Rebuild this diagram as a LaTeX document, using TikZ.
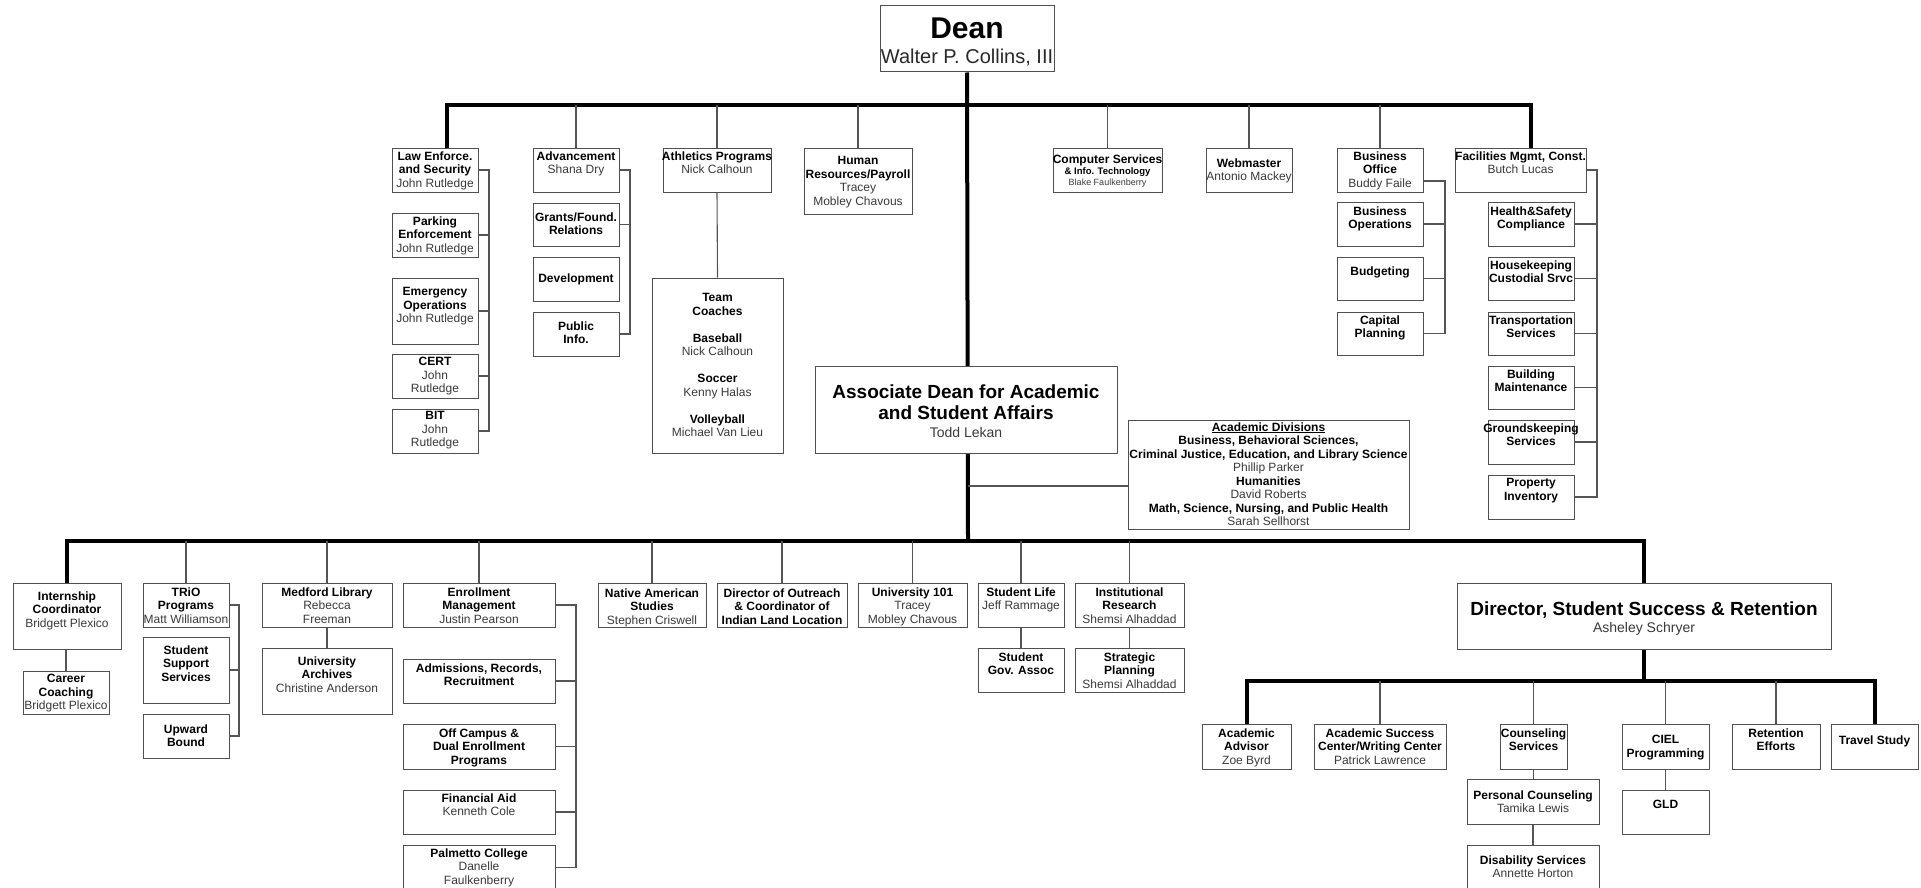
\documentclass[tikz,border=0pt]{standalone}
\usepackage{fontspec}
\setmainfont{Liberation Sans}
\usetikzlibrary{fit}
\pgfdeclarelayer{back}
\pgfsetlayers{back,main}
\definecolor{bxc}{HTML}{505050}
\definecolor{lnc}{HTML}{555555}
\definecolor{nmc}{HTML}{3A3A3A}
\newcommand\who[1]{{\mdseries\color{nmc}#1}}
\tikzset{
  bx/.style={draw=bxc, line width=1pt, fill=white, inner sep=0pt},
  txt/.style={align=center, inner sep=0pt, font=\fontsize{12}{13.5}\selectfont\bfseries},
  thn/.style={draw=lnc, line width=1.1pt},
  thk/.style={draw=black, line width=4pt},
}
% name, x1, y1, x2, y2, first-line centre offset, text
\newcommand\obox[7]{%
  \node[bx, fit={(#2,#3)(#4,#5)}] (#1) {};
  \node[txt, anchor=north] (#1-t) at ([yshift={4.3pt-#6pt}]#1.north) {#7};
}
\begin{document}
\begin{tikzpicture}[x=1pt,y=-1pt]
\useasboundingbox (0,0) rectangle (1921,888);

% ---------- top ----------
\node[bx, fit={(880,6)(1054,72)}] (dean) {};
\node[anchor=base, inner sep=0pt, font=\fontsize{30}{34}\selectfont\bfseries] (dean-t) at (967,39) {Dean};
\node[anchor=base, inner sep=0pt, font=\fontsize{20}{24}\selectfont, text=nmc!70!black] (dean-n) at (967,64) {Walter P. Collins, III};

\obox{law}{392}{148}{478}{192}{8}{Law Enforce.\\and Security\\\who{John Rutledge}}
\obox{park}{392}{213}{478}{257}{8}{Parking\\Enforcement\\\who{John Rutledge}}
\obox{emer}{392}{278}{478}{344}{14}{Emergency\\Operations\\\who{John Rutledge}}
\obox{cert}{392}{354}{478}{398}{8}{CERT\\\who{John}\\\who{Rutledge}}
\obox{bit}{392}{409}{478}{453}{7}{BIT\\\who{John}\\\who{Rutledge}}

\obox{adv}{533}{148}{619}{192}{8}{Advancement\\\who{Shana Dry}}
\obox{grants}{533}{203}{619}{246}{14}{Grants/Found.\\Relations}
\obox{devel}{533}{257}{619}{301}{21}{Development}
\obox{pubinfo}{533}{312}{619}{356}{14}{Public\\Info.}

\obox{ath}{663}{148}{771}{192}{8}{Athletics Programs\\\who{Nick Calhoun}}
\obox{coach}{652}{278}{783}{453}{20}{Team\\Coaches\\[13.5pt]Baseball\\\who{Nick Calhoun}\\[13.5pt]Soccer\\\who{Kenny Halas}\\[13.5pt]Volleyball\\\who{Michael Van Lieu}}
\obox{hr}{804}{148}{912}{214}{13}{Human\\Resources/Payroll\\\who{Tracey}\\\who{Mobley Chavous}}

\obox{cs}{1053}{148}{1162}{192}{11}{Computer Services\\[-2pt]{\fontsize{9.5}{11}\selectfont \& Info. Technology}\\[-3pt]{\fontsize{9}{10}\selectfont\who{Blake Faulkenberry}}}
\obox{web}{1206}{148}{1292}{192}{15}{Webmaster\\\who{Antonio Mackey}}

\obox{bo}{1337}{148}{1423}{192}{8}{Business\\Office\\\who{Buddy Faile}}
\obox{bops}{1337}{202}{1423}{246}{9}{Business\\Operations}
\obox{budg}{1337}{257}{1423}{300}{14}{Budgeting}
\obox{cap}{1337}{312}{1423}{355}{8}{Capital\\Planning}

\obox{fac}{1455}{148}{1586}{192}{8}{Facilities Mgmt, Const.\\\who{Butch Lucas}}
\obox{hs}{1488}{202}{1574}{246}{9}{Health\&Safety\\Compliance}
\obox{hk}{1488}{257}{1574}{300}{8}{Housekeeping\\Custodial Srvc}
\obox{tr}{1488}{312}{1574}{355}{8}{Transportation\\Services}
\obox{bm}{1488}{366}{1574}{409}{8}{Building\\Maintenance}
\obox{gk}{1488}{420}{1574}{464}{8}{Groundskeeping\\Services}
\obox{pi}{1488}{475}{1574}{519}{8}{Property\\Inventory}

% associate dean
\node[bx, fit={(815,366)(1117,453)}] (assoc) {};
\node[anchor=base, inner sep=0pt, font=\fontsize{19}{21}\selectfont\bfseries] (assoc-t) at (966,398.5) {Associate Dean for Academic};
\node[anchor=base, inner sep=0pt, font=\fontsize{19}{21}\selectfont\bfseries] (assoc-t2) at (966,419.5) {and Student Affairs};
\node[anchor=base, inner sep=0pt, font=\fontsize{14}{16}\selectfont, text=nmc] (assoc-n) at (966,437) {Todd Lekan};

\obox{ad}{1128}{420}{1409}{529}{7}{\underline{Academic Divisions}\\Business, Behavioral Sciences,\\Criminal Justice, Education, and Library Science\\\who{Phillip Parker}\\Humanities\\\who{David Roberts}\\Math, Science, Nursing, and Public Health\\\who{Sarah Sellhorst}}

% ---------- bottom ----------
\obox{intern}{13}{583}{121}{649}{13}{Internship\\Coordinator\\\who{Bridgett Plexico}}
\obox{career}{23}{671}{109}{714}{8}{Career\\Coaching\\\who{Bridgett Plexico}}
\obox{trio}{143}{583}{229}{627}{9}{TRiO\\Programs\\\who{Matt Williamson}}
\obox{sss}{143}{637}{229}{703}{13}{Student\\Support\\Services}
\obox{upb}{143}{714}{229}{758}{15}{Upward\\Bound}
\obox{med}{262}{583}{392}{627}{9}{Medford Library\\\who{Rebecca}\\\who{Freeman}}
\obox{arch}{262}{648}{392}{714}{13}{University\\Archives\\\who{Christine Anderson}}
\obox{em}{403}{583}{555}{627}{9}{Enrollment\\Management\\\who{Justin Pearson}}
\obox{adm}{403}{659}{555}{703}{9}{Admissions, Records,\\Recruitment}
\obox{offc}{403}{724}{555}{769}{9}{Off Campus \&\\Dual Enrollment\\Programs}
\obox{fa}{403}{790}{555}{834}{8}{Financial Aid\\\who{Kenneth Cole}}
\obox{palm}{403}{845}{555}{890}{8}{Palmetto College\\\who{Danelle}\\\who{Faulkenberry}}
\obox{nas}{598}{583}{706}{627}{10}{Native American\\Studies\\\who{Stephen Criswell}}
\obox{outr}{717}{583}{847}{627}{10}{Director of Outreach\\\& Coordinator of\\Indian Land Location}
\obox{u101}{858}{583}{967}{627}{9}{University 101\\\who{Tracey}\\\who{Mobley Chavous}}
\obox{sl}{978}{583}{1064}{627}{9}{Student Life\\\who{Jeff Rammage}}
\obox{sga}{978}{648}{1064}{692}{9}{Student\\Gov. Assoc}
\obox{ir}{1075}{583}{1184}{627}{9}{Institutional\\Research\\\who{Shemsi Alhaddad}}
\obox{sp}{1075}{648}{1184}{692}{9}{Strategic\\Planning\\\who{Shemsi Alhaddad}}

\node[bx, fit={(1457,583)(1831,649)}] (dir) {};
\node[anchor=base, inner sep=0pt, font=\fontsize{19}{21}\selectfont\bfseries] (dir-t) at (1644,615.5) {Director, Student Success \& Retention};
\node[anchor=base, inner sep=0pt, font=\fontsize{14}{16}\selectfont, text=nmc] (dir-n) at (1644,632) {Asheley Schryer};

\obox{aadv}{1202}{724}{1291}{769}{9}{Academic\\Advisor\\\who{Zoe Byrd}}
\obox{asc}{1314}{724}{1446}{769}{9}{Academic Success\\Center/Writing Center\\\who{Patrick Lawrence}}
\obox{couns}{1500}{724}{1567}{769}{9}{Counseling\\Services}
\obox{pers}{1467}{779}{1599}{824}{16}{Personal Counseling\\\who{Tamika Lewis}}
\obox{dis}{1467}{845}{1599}{890}{15}{Disability Services\\\who{Annette Horton}}
\obox{ciel}{1622}{724}{1709}{769}{16}{CIEL\\Programming}
\obox{gld}{1622}{790}{1709}{834}{15}{GLD}
\obox{ret}{1732}{724}{1820}{769}{9}{Retention\\Efforts}
\obox{trav}{1831}{724}{1918}{769}{16}{Travel Study}

% ---------- connectors ----------
\coordinate (tb) at (968,105);
\coordinate (bb) at (968,541);
\coordinate (sb) at (1644,681);
\coordinate (lawin) at (447,148);
\coordinate (facin) at (1531,148);
\coordinate (adj) at (968,486);
\coordinate (lawbr) at (489,0);
\coordinate (advbr) at (630,0);
\coordinate (bobr) at (1445,0);
\coordinate (bostub) at (1423,181);
\coordinate (facbr) at (1597,0);
\coordinate (triobr) at (239,0);
\coordinate (embr) at (576,0);

\begin{pgfonlayer}{back}
\fill[white] (0,0) rectangle (1921,888);
\draw[thk] (dean.south) -- (bb);
\draw[thk] (lawin) |- (tb) -| (facin);
\draw[thk] (intern.north) |- (bb) -| (dir.north);
\draw[thk] (dir.south) -- (sb);
\draw[thk] (aadv.north) |- (sb) -| (trav.north);

\foreach \n in {adv,ath,hr,cs,web,bo} \draw[thn] (\n.north) -- (\n.north |- tb);
\foreach \n in {trio,med,em,nas,outr,u101,sl,ir} \draw[thn] (\n.north) -- (\n.north |- bb);
\foreach \n in {asc,couns,ciel,ret} \draw[thn] (\n.north) -- (\n.north |- sb);

\draw[thn] (adj) -- (adj -| ad.west);

\draw[thn] (law.east) -- (law.east -| lawbr) -- (bit.east -| lawbr) -- (bit.east);
\foreach \n in {park,emer,cert} \draw[thn] (\n.east) -- (\n.east -| lawbr);

\draw[thn] (adv.east) -- (adv.east -| advbr) -- (pubinfo.east -| advbr) -- (pubinfo.east);
\draw[thn] (grants.east) -- (grants.east -| advbr);

\draw[thn] (bostub) -- (bostub -| bobr) -- (cap.east -| bobr) -- (cap.east);
\foreach \n in {bops,budg} \draw[thn] (\n.east) -- (\n.east -| bobr);

\draw[thn] (fac.east) -- (fac.east -| facbr) -- (pi.east -| facbr) -- (pi.east);
\foreach \n in {hs,hk,tr,bm,gk} \draw[thn] (\n.east) -- (\n.east -| facbr);

\draw[thn] (trio.east) -- (trio.east -| triobr) -- (upb.east -| triobr) -- (upb.east);
\draw[thn] (sss.east) -- (sss.east -| triobr);

\draw[thn] (em.east) -- (em.east -| embr) -- (palm.east -| embr) -- (palm.east);
\foreach \n in {adm,offc,fa} \draw[thn] (\n.east) -- (\n.east -| embr);

\draw[thn] (ath.south) -- (coach.north);
\draw[thn] (career.north) -- (career.north |- intern.south);
\draw[thn] (med.south) -- (arch.north);
\draw[thn] (sl.south) -- (sga.north);
\draw[thn] (ir.south) -- (sp.north);
\draw[thn] (couns.south) -- (couns.south |- pers.north);
\draw[thn] (pers.south) -- (dis.north);
\draw[thn] (ciel.south) -- (gld.north);
\end{pgfonlayer}
\end{tikzpicture}
\end{document}
